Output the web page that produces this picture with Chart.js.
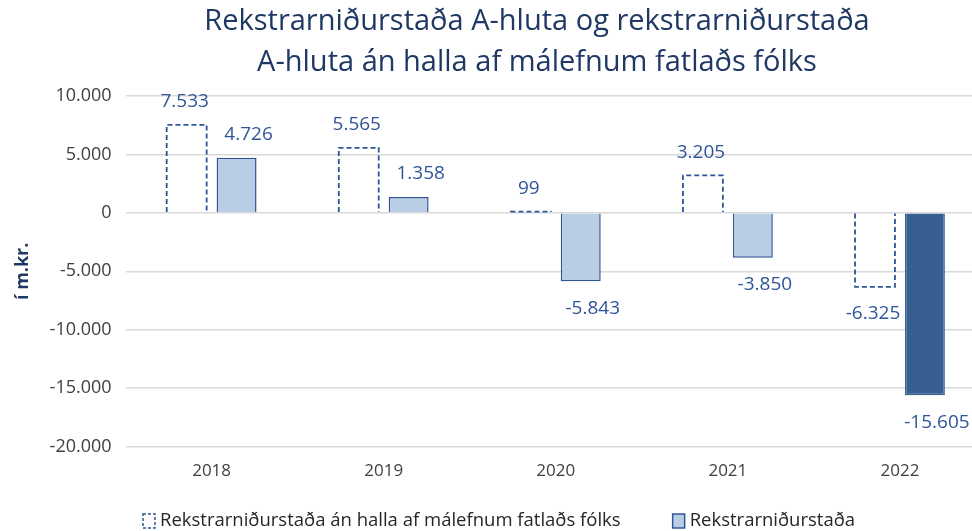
<!DOCTYPE html>
<html>
<head>
<meta charset="utf-8">
<script src="https://cdn.jsdelivr.net/npm/chart.js@4.4.1/dist/chart.umd.min.js"></script>
<style>
  html, body { margin: 0; padding: 0; background: #fff; overflow: hidden; }
  #wrap { width: 986px; height: 531px; position: relative; }
</style>
</head>
<body>
<div id="wrap"><canvas id="chart"></canvas></div>
<script>
// Data
const years = ['2018', '2019', '2020', '2021', '2022'];
const withoutDeficit = [7533, 5565, 99, 3205, -6325];
const result = [4726, 1358, -5843, -3850, -15605];
const seriesNames = ['Rekstrarniðurstaða án halla af málefnum fatlaðs fólks', 'Rekstrarniðurstaða'];
const titleLines = ['Rekstrarniðurstaða A-hluta og rekstrarniðurstaða', 'A-hluta án halla af málefnum fatlaðs fólks'];

const navy = '#1F3864';
const blue = '#2F5597';
const lightBlue = '#B9CDE5';
const darkBlue = '#375F91';
const font = '"Open Sans", sans-serif';

function fmt(v) {
    return v.toLocaleString('de-DE');
}

// title, centred a bit right of the canvas middle like the original
const titlePlugin = {
    id: 'titlePlugin',
    beforeDraw(chart) {
        const ctx = chart.ctx;
        ctx.save();
        ctx.font = '29px ' + font;
        ctx.fillStyle = navy;
        ctx.textAlign = 'center';
        ctx.textBaseline = 'middle';
        ctx.fillText(titleLines[0], 537, 22);
        ctx.fillText(titleLines[1], 537, 63);
        ctx.restore();
    }
};

// legend at the bottom, with a dashed box for the first series
const bottomLegend = {
    id: 'bottomLegend',
    afterDraw(chart) {
        const ctx = chart.ctx;
        const y = 521;
        ctx.save();
        ctx.font = '18.5px ' + font;
        ctx.textBaseline = 'middle';
        ctx.lineWidth = 1.5;

        let x = 143;
        ctx.strokeStyle = blue;
        ctx.setLineDash([3, 2]);
        ctx.strokeRect(x, y - 7, 12, 14);
        ctx.setLineDash([]);
        ctx.fillStyle = '#262626';
        ctx.fillText(seriesNames[0], x + 17, y);

        x = x + 17 + ctx.measureText(seriesNames[0]).width + 52;
        ctx.fillStyle = lightBlue;
        ctx.fillRect(x, y - 7, 12, 14);
        ctx.strokeRect(x, y - 7, 12, 14);
        ctx.fillStyle = '#262626';
        ctx.fillText(seriesNames[1], x + 17, y);
        ctx.restore();
    }
};

// dashed outline for the first series (open at the zero end)
const dashedBars = {
    id: 'dashedBars',
    afterDatasetsDraw(chart) {
        const ctx = chart.ctx;
        const meta = chart.getDatasetMeta(0);
        ctx.save();
        ctx.strokeStyle = blue;
        ctx.lineWidth = 1.8;
        ctx.setLineDash([5, 3]);
        meta.data.forEach(bar => {
            const l = bar.x - bar.width / 2, r = bar.x + bar.width / 2;
            ctx.beginPath();
            ctx.moveTo(l, bar.base);
            ctx.lineTo(l, bar.y);
            ctx.lineTo(r, bar.y);
            ctx.lineTo(r, bar.base);
            ctx.stroke();
        });
        ctx.restore();
    }
};

// value labels
const valueLabels = {
    id: 'valueLabels',
    afterDatasetsDraw(chart) {
        const ctx = chart.ctx;
        ctx.save();
        ctx.font = '19px ' + font;
        ctx.fillStyle = blue;
        ctx.textAlign = 'center';
        ctx.textBaseline = 'middle';
        chart.data.datasets.forEach((ds, di) => {
            chart.getDatasetMeta(di).data.forEach((bar, i) => {
                const v = ds.data[i];
                const dx = di === 1 ? 12 : -2;
                const y = v >= 0 ? bar.y - 23 : bar.y + 27;
                ctx.fillText(fmt(v), bar.x + dx, y);
            });
        });
        ctx.restore();
    }
};

new Chart(document.getElementById('chart').getContext('2d'), {
    type: 'bar',
    data: {
        labels: years,
        datasets: [{
            label: seriesNames[0],
            data: withoutDeficit,
            backgroundColor: 'rgba(255,255,255,0)',
            borderWidth: 0,
            barPercentage: 0.8,
            categoryPercentage: 0.58
        }, {
            label: seriesNames[1],
            data: result,
            backgroundColor: [lightBlue, lightBlue, lightBlue, lightBlue, darkBlue],
            borderColor: [blue, blue, blue, blue, darkBlue],
            borderWidth: 1.5,
            barPercentage: 0.8,
            categoryPercentage: 0.58
        }]
    },
    options: {
        responsive: true,
        maintainAspectRatio: false,
        animation: false,
        layout: { padding: { left: 8, right: 0, top: 96, bottom: 44 } },
        plugins: {
            title: { display: false },
            legend: { display: false },
            tooltip: { enabled: false }
        },
        scales: {
            x: {
                grid: { display: false },
                border: { display: false },
                ticks: { color: '#404040', font: { family: font, size: 17 }, padding: 6 }
            },
            y: {
                min: -20000,
                max: 10000,
                grid: { color: '#D9D9D9', lineWidth: 1.5, drawTicks: false },
                border: { display: false },
                ticks: {
                    stepSize: 5000,
                    color: '#404040',
                    padding: 14,
                    font: { family: font, size: 18 },
                    callback: v => fmt(v)
                },
                title: {
                    display: true,
                    text: 'í m.kr.',
                    color: navy,
                    font: { family: font, size: 18, weight: 'bold' },
                    padding: { bottom: 2 }
                }
            }
        }
    },
    plugins: [titlePlugin, dashedBars, valueLabels, bottomLegend]
});
</script>
</body>
</html>
